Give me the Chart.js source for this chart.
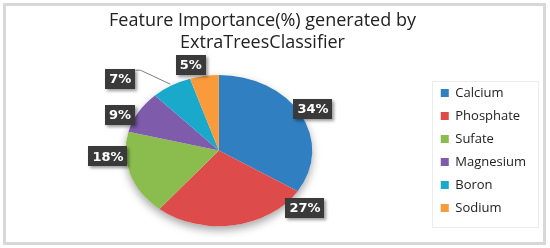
<!DOCTYPE html>
<html>
<head>
<meta charset="utf-8">
<script src="https://cdn.jsdelivr.net/npm/chart.js@4.4.1/dist/chart.umd.min.js"></script>
<style>
  html, body { margin: 0; padding: 0; background: #fff; }
  #frame {
    position: absolute; left: 3px; top: 3px; width: 543px; height: 242px;
    box-sizing: border-box; border: 3px solid #d8d8d8;
  }
  #wrap { position: absolute; left: 0; top: 0; width: 550px; height: 248px; }
</style>
</head>
<body>
<div id="frame"></div>
<div id="wrap"><canvas id="pie-chart" width="550" height="248"></canvas></div>
<script>
// data
const features = ['Calcium', 'Phosphate', 'Sufate', 'Magnesium', 'Boron', 'Sodium'];
const importance = [34, 27, 18, 9, 7, 5];
const sliceColors = ['#2F7FC1', '#DE4B4B', '#8BBD4E', '#7E5BAB', '#1AA8CB', '#F99B3A'];

// where each label sits: fraction along its slice, distance as a multiple of the radius
const labelSpots = [
    { t: 0.50, k: 1.15 },
    { t: 0.07, k: 1.19 },
    { t: 0.72, k: 1.19 },
    { t: 0.30, k: 1.16 },
    { t: -0.19, k: 1.42, leader: true },
    { t: 0.17, k: 1.17 },
];

const RATIO = 0.81; // pie is drawn a bit flattened
const TITLE_SHIFT = -9; // title sits a little left of the page centre

const flatPie = {
    id: 'flatPie',
    afterLayout(chart) {
        chart.titleBlock.left += TITLE_SHIFT;
        chart.titleBlock.right += TITLE_SHIFT;
    },
    beforeDatasetsDraw(chart) {
        const arc = chart.getDatasetMeta(0).data[0];
        const ctx = chart.ctx;
        const { x, y, outerRadius } = arc;
        // soft shadow under the pie
        ctx.save();
        ctx.translate(x, y);
        ctx.scale(1, RATIO);
        ctx.shadowColor = 'rgba(0,0,0,0.35)';
        ctx.shadowBlur = 8;
        ctx.shadowOffsetY = 4;
        ctx.beginPath();
        ctx.arc(0, 0, outerRadius, 0, Math.PI * 2);
        ctx.fillStyle = '#fff';
        ctx.fill();
        ctx.restore();
        // squash the slices
        ctx.save();
        ctx.translate(x, y);
        ctx.scale(1, RATIO);
        ctx.translate(-x, -y);
    },
    afterDatasetsDraw(chart) {
        const ctx = chart.ctx;
        ctx.restore();
        const meta = chart.getDatasetMeta(0);
        ctx.save();
        ctx.font = 'bold 13px "DejaVu Sans"';
        ctx.textAlign = 'center';
        ctx.textBaseline = 'middle';
        meta.data.forEach((arc, i) => {
            const spot = labelSpots[i];
            const a = arc.startAngle + spot.t * (arc.endAngle - arc.startAngle);
            const r = arc.outerRadius;
            const lx = arc.x + spot.k * r * Math.cos(a);
            const ly = arc.y + spot.k * r * RATIO * Math.sin(a);
            const text = importance[i] + '%';
            const w = ctx.measureText(text).width + 8;
            const h = 20;

            if (spot.leader) {
                const mid = (arc.startAngle + arc.endAngle) / 2;
                const ex = arc.x + 1.02 * r * Math.cos(mid);
                const ey = arc.y + 1.02 * r * RATIO * Math.sin(mid);
                ctx.strokeStyle = '#7f7f7f';
                ctx.lineWidth = 1;
                ctx.beginPath();
                ctx.moveTo(lx + w / 2, ly - h / 2 + 1.5);
                ctx.lineTo(lx + w / 2 + 5, ly - h / 2 + 1.5);
                ctx.lineTo(ex, ey);
                ctx.stroke();
            }

            ctx.save();
            ctx.shadowColor = 'rgba(0,0,0,0.4)';
            ctx.shadowBlur = 3;
            ctx.shadowOffsetX = 2;
            ctx.shadowOffsetY = 2;
            ctx.fillStyle = '#3a3a3a';
            ctx.fillRect(Math.round(lx - w / 2), Math.round(ly - h / 2), Math.round(w), h);
            ctx.restore();
            ctx.fillStyle = '#ffffff';
            ctx.fillText(text, lx, ly + 1);
        });
        ctx.restore();
    },
    afterDraw(chart) {
        // light box round the legend
        const boxes = chart.legend.legendHitBoxes;
        if (!boxes || !boxes.length) return;
        const left = Math.min(...boxes.map(b => b.left)) - 9;
        const right = Math.max(...boxes.map(b => b.left + b.width)) + 12;
        const top = boxes[0].top - 6;
        const last = boxes[boxes.length - 1];
        const bottom = last.top + last.height + 12;
        const ctx = chart.ctx;
        ctx.save();
        ctx.strokeStyle = '#ececec';
        ctx.lineWidth = 1;
        ctx.strokeRect(Math.round(left) + 0.5, Math.round(top) + 0.5, Math.round(right - left), Math.round(bottom - top));
        ctx.restore();
    }
};

const ctx = document.getElementById('pie-chart').getContext('2d');
window.pieChart = new Chart(ctx, {
    type: 'pie',
    data: {
        labels: features,
        datasets: [
            {
                data: importance,
                backgroundColor: sliceColors,
                borderWidth: 0,
            },
        ]
    },
    options: {
        responsive: false,
        animation: false,
        layout: { padding: { top: 8, left: 7, right: 14, bottom: 4 } },
        plugins: {
            title: {
                display: true,
                text: ['Feature Importance(%) generated by', 'ExtraTreesClassifier'],
                color: '#222',
                font: { family: '"Open Sans"', size: 18, weight: 'normal', lineHeight: 1.2 },
                padding: { top: 2, bottom: 4 },
            },
            legend: {
                position: 'right',
                fullSize: false,
                labels: {
                    boxWidth: 8,
                    boxHeight: 8,
                    padding: 10,
                    color: '#222',
                    font: { family: '"Open Sans"', size: 13 },
                },
            },
            tooltip: { enabled: false },
        },
    },
    plugins: [flatPie],
});
</script>
</body>
</html>
